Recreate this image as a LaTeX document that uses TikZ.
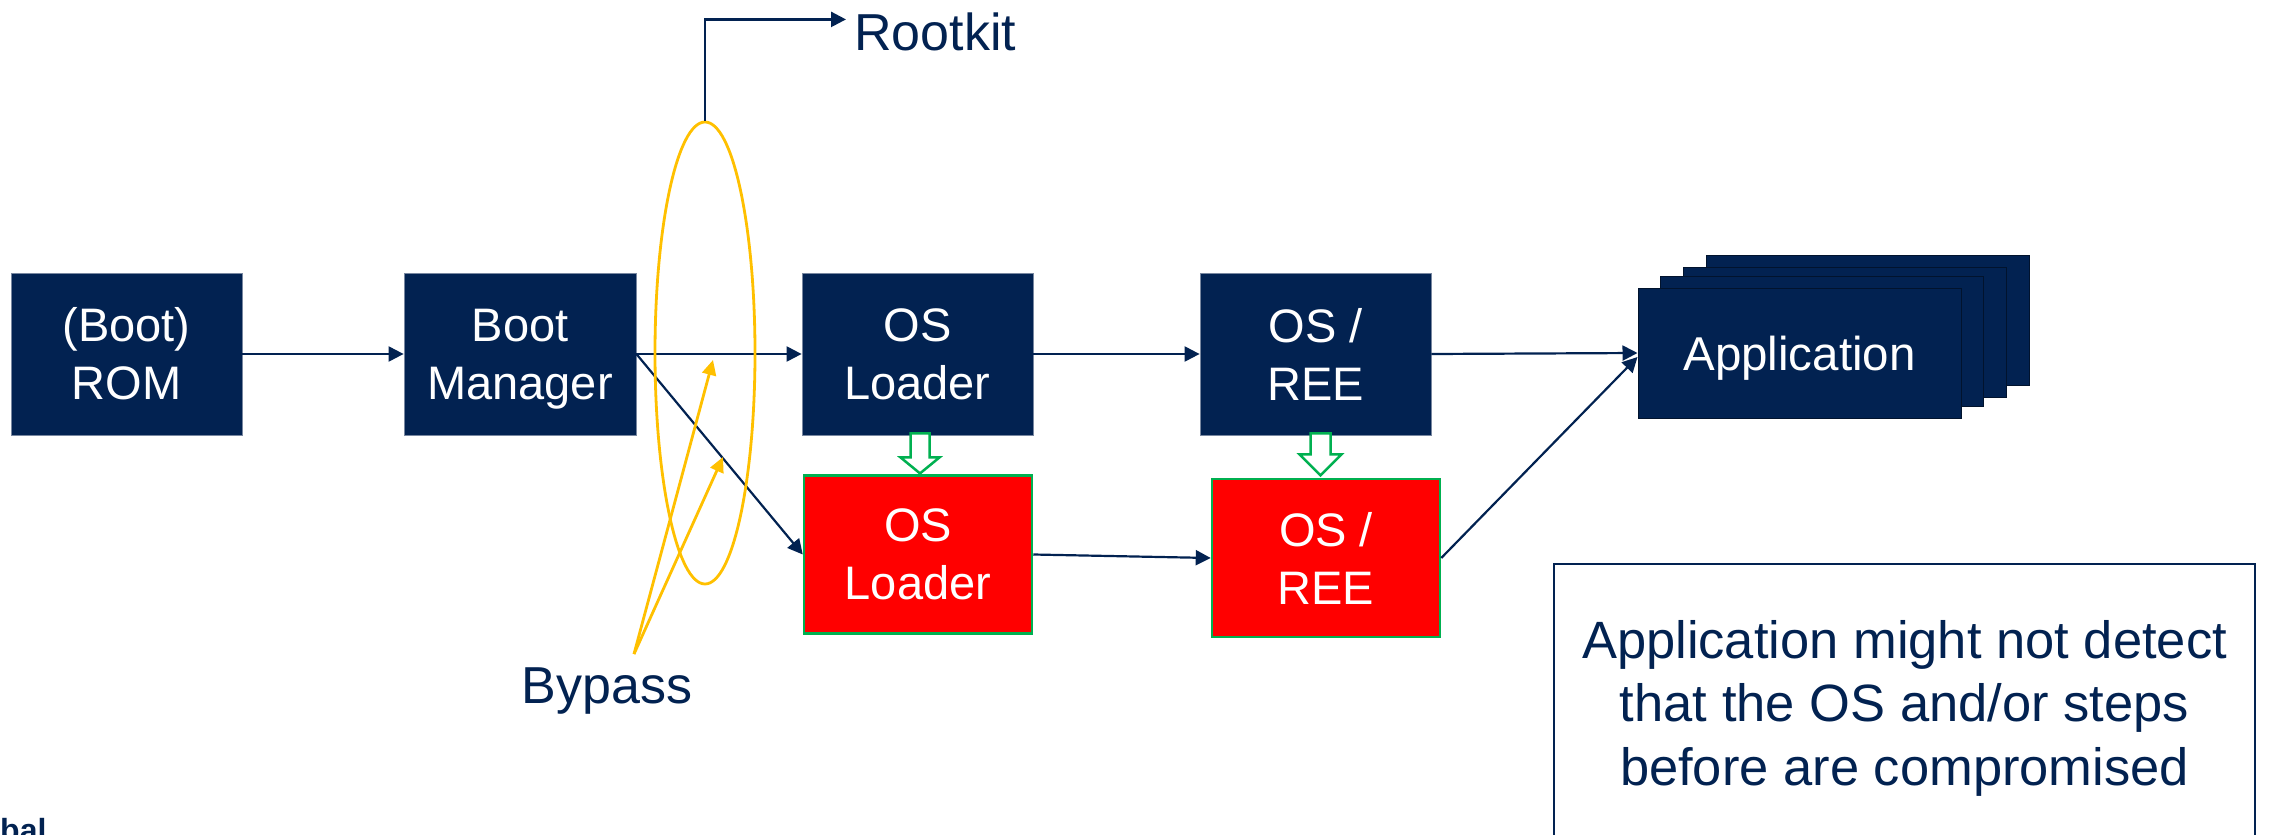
\documentclass[tikz,border=0pt]{standalone}
\usepackage{fontspec}
\setmainfont{Liberation Sans}
\usetikzlibrary{arrows.meta,calc,shapes.geometric}
\definecolor{navy}{RGB}{2,34,81}
\definecolor{alarm}{RGB}{255,0,0}
\definecolor{okgreen}{RGB}{0,176,80}
\definecolor{amber}{RGB}{255,192,0}
\definecolor{edgegray}{RGB}{120,135,160}
\begin{document}
\begin{tikzpicture}[x=1pt,y=-1pt,
  navybox/.style={rectangle, fill=navy, draw=edgegray, line width=0.8pt, text=white,
    minimum width=231pt, minimum height=162pt, align=center, inner sep=0pt,
    font=\fontsize{47}{58}\selectfont},
  redbox/.style={navybox, fill=alarm, draw=okgreen, line width=2.5pt,
    minimum width=228pt, minimum height=158pt},
  stackbox/.style={rectangle, fill=navy, draw=navy!55!black, line width=1pt,
    minimum width=323pt, minimum height=130pt, inner sep=0pt},
  flow/.style={draw=navy, line width=2.2pt, -{Triangle[length=15pt,width=15pt]}},
  bypassarrow/.style={draw=amber, line width=2.8pt, -{Triangle[length=15pt,width=14pt]}},
  lbl/.style={text=navy, font=\fontsize{52}{62}\selectfont, inner sep=0pt},
  hollow/.style={draw=okgreen, fill=white, line width=2.5pt, line join=miter},
]
\useasboundingbox (0,0) rectangle (2271,835);

% main chain
\node[navybox] (rom) at (126.5,354) {(Boot)\\ROM};
\node[navybox, minimum width=232pt] (bm) at (520,354) {Boot\\\smash{Manager}};
\node[navybox] (osl) at (917.5,354) {OS\\Loader};
\node[navybox] (ree) at (1315.5,354) {OS /\\REE};
\node[redbox] (osl2) at (918,554.5) {OS\\Loader};
\node[redbox] (ree2) at (1326,558) {OS /\\REE};

% application stack
\node[stackbox] (app3) at (1868,320.4) {};
\node[stackbox] (app2) at (1845,332) {};
\node[stackbox] (app1) at (1822,341) {};
\node[stackbox, text=white, text depth=0pt, font=\fontsize{47.5}{58}\selectfont] (app) at (1799.5,353) {Application};

% note
\node[draw=navy, line width=2pt, minimum width=701pt, minimum height=288pt, align=center,
  text=navy, font=\fontsize{52.5}{63.5}\selectfont, inner sep=0pt] (note) at (1904.5,708)
  {Application might not detect\\that the OS and/or steps\\before are compromised};

% flow arrows
\draw[flow] (rom.east) -- (bm.west);
\draw[flow] (bm.east) -- (osl.west);
\draw[flow] (bm.east) -- (osl2.west);
\draw[flow] (osl.east) -- (ree.west);
\draw[flow] (osl2.east) -- (ree2.west);
\draw[flow] (ree.east) -- (app.west);
\draw[flow] (ree2.east) -- ([yshift=-4pt]app.west);

% hollow green arrows
\coordinate (h1) at ($(osl.south)+(2.5,0)$);
\draw[hollow] ($(h1)+(-9.5,-2)$) -- ($(h1)+(-9.5,22)$) -- ($(h1)+(-19.5,22)$)
  -- ($(h1)+(0,38)$) -- ($(h1)+(19.5,22)$) -- ($(h1)+(9.5,22)$) -- ($(h1)+(9.5,-2)$) -- cycle;
\coordinate (h2) at ($(ree.south)+(5,0)$);
\draw[hollow] ($(h2)+(-10,-2)$) -- ($(h2)+(-10,19)$) -- ($(h2)+(-21,19)$)
  -- ($(h2)+(0,40)$) -- ($(h2)+(21,19)$) -- ($(h2)+(10,19)$) -- ($(h2)+(10,-2)$) -- cycle;

% bypass ring and rootkit
\node[ellipse, draw=amber, line width=2.8pt, minimum width=100pt, minimum height=462pt,
  inner sep=0pt] (ring) at (705,353) {};
\node[lbl, anchor=base west] (rootkit) at (854,50) {Rootkit};
\draw[flow, line width=2.5pt] (ring.north) |- ([xshift=-8pt,yshift=12pt]rootkit.west);

% bypass arrows
\node[lbl, anchor=base] (bypass) at (607,703) {Bypass};
\coordinate (t1) at (713,360);
\coordinate (t2) at (723,457);
\draw[bypassarrow] ([xshift=27pt,yshift=13pt]bypass.north) -- (t1);
\draw[bypassarrow] ([xshift=27pt,yshift=13pt]bypass.north) -- (t2);

% cut-off logo text
\node[anchor=base west, inner sep=0pt, text=navy, font=\bfseries\fontsize{32}{32}\selectfont] (logo) at (0,841) {bal};
\end{tikzpicture}
\end{document}
